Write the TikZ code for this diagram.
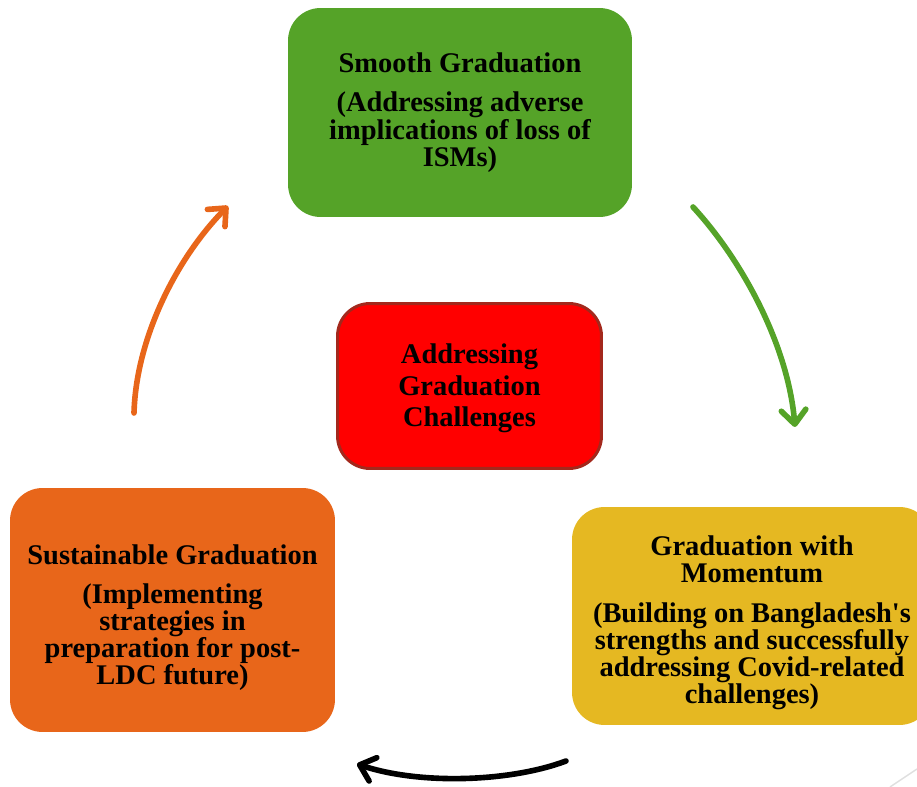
\documentclass[tikz,border=0pt]{standalone}
\usepackage{fontspec}
\setmainfont{Liberation Serif}
\usetikzlibrary{arrows.meta}
\definecolor{smoothgreen}{HTML}{55A328}
\definecolor{momentumgold}{HTML}{E5B822}
\definecolor{sustainorange}{HTML}{E8661A}
\definecolor{coreborder}{HTML}{A3281C}
\begin{document}
\begin{tikzpicture}[x=0.02cm,y=-0.02cm,
 box/.style={rounded corners=0.65cm,align=center,inner sep=0pt,font=\fontsize{16.2}{15.4}\selectfont\bfseries},
 cycle/.style={line width=3.2pt,line cap=round,-{Straight Barb[length=8pt,width=14pt,line cap=round,line join=round]}}]
 \useasboundingbox (0,0) rectangle (917,787);
 \node[box,fill=smoothgreen,minimum width=6.88cm,minimum height=4.18cm] (smooth) at (460,112.5) {Smooth Graduation\\[7pt](Addressing adverse\\implications of loss of\\ISMs)};
 \node[box,fill=red,draw=coreborder,line width=1.7pt,minimum width=5.28cm,minimum height=3.3cm,font=\fontsize{16.2}{18}\selectfont\bfseries] (core) at (469.5,386) {\rule{0pt}{14pt}Addressing\\Graduation\\Challenges};
 \node[box,fill=momentumgold,minimum width=7.2cm,minimum height=4.36cm] (momentum) at (752,616) {\rule{0pt}{19pt}Graduation with\\Momentum\\[7pt](Building on Bangladesh\textquotesingle s\\strengths and successfully\\addressing Covid-related\\challenges)};
 \node[box,fill=sustainorange,minimum width=6.5cm,minimum height=4.88cm] (sustain) at (172.5,610) {\rule{0pt}{20pt}Sustainable Graduation\\[7pt](Implementing\\strategies in\\preparation for post-\\LDC future)};
 \coordinate (g1) at (693,207);
 \coordinate (g2) at (795,427);
 \coordinate (k1) at (566,761);
 \coordinate (k2) at (357,764);
 \coordinate (o1) at (134,413);
 \coordinate (o2) at (228,206);
 \draw[cycle,smoothgreen] (g1) .. controls (742,260) and (788,345) .. (g2);
 \draw[cycle,black] (k1) .. controls (510,782) and (420,785) .. (k2);
 \draw[cycle,sustainorange] (o1) .. controls (136,340) and (175,260) .. (o2);
 \draw[gray!25,line width=0.8pt] (890,787) -- (917,769);
\end{tikzpicture}
\end{document}
